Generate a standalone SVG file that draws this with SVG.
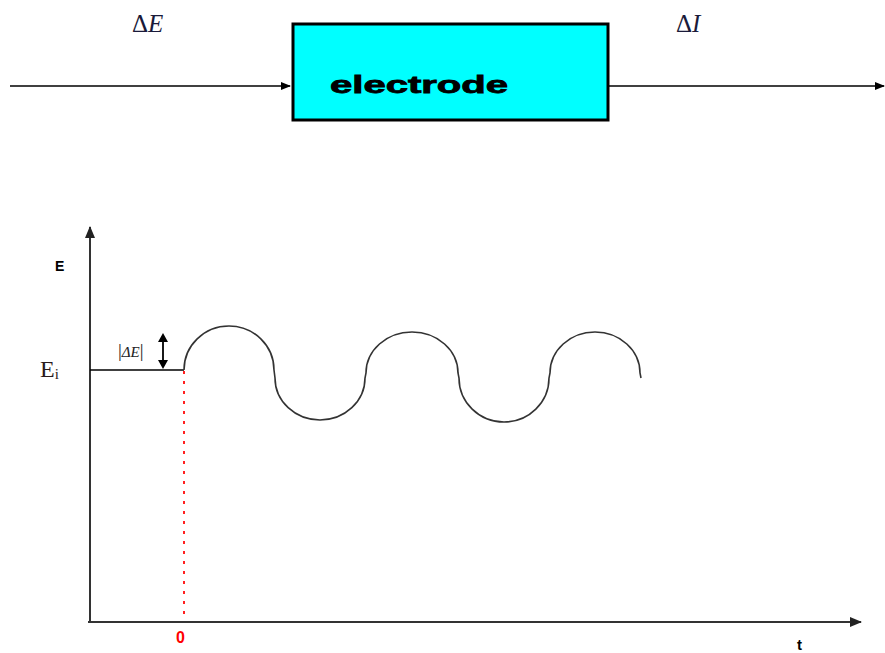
<svg xmlns="http://www.w3.org/2000/svg" width="885" height="653" viewBox="0 0 885 653">
<style>
.ln{stroke:#000;stroke-width:1.5;fill:none}
.ax{stroke:#333;stroke-width:2;fill:none}
.wave{stroke:#333;stroke-width:1.6;fill:none}
.serif{font-family:"Liberation Serif","DejaVu Serif",serif}
.sans{font-family:"Liberation Sans",Arial,sans-serif;font-weight:bold}
</style>
<defs>
<marker id="ah" markerWidth="10" markerHeight="10" refX="9" refY="5" orient="auto" markerUnits="userSpaceOnUse"><path d="M0,1 L10,5 L0,9 Z" fill="#000"/></marker>
<marker id="ah2" markerWidth="12" markerHeight="12" refX="11" refY="6" orient="auto" markerUnits="userSpaceOnUse"><path d="M0,1 L12,6 L0,11 Z" fill="#222"/></marker>
</defs>
<g id="connectors">
<line class="ln" x1="10" y1="86" x2="290" y2="86" marker-end="url(#ah)"/>
<line class="ln" x1="608" y1="86" x2="884" y2="86" marker-end="url(#ah)"/>
</g>
<g id="electrode">
<rect x="293" y="24" width="315" height="96" fill="#00FFFF" stroke="#000" stroke-width="3"/>
<text x="330" y="93" class="sans" font-size="24" stroke="#000" stroke-width="0.8" textLength="178" lengthAdjust="spacingAndGlyphs">electrode</text>
</g>
<g id="labels-top">
<text x="132" y="32" class="serif" font-size="25" fill="#1a1a3a">Δ<tspan font-style="italic">E</tspan></text>
<text x="676" y="32" class="serif" font-size="25" fill="#1a1a3a">Δ<tspan font-style="italic">I</tspan></text>
</g>
<g id="graph">
<line class="ax" x1="90" y1="623" x2="90" y2="227" marker-end="url(#ah2)"/>
<line class="ax" x1="88" y1="622" x2="861" y2="622" marker-end="url(#ah2)"/>
<text x="55" y="271" class="sans" font-size="14">E</text>
<text x="40" y="377" class="serif" font-size="24" fill="#2a1a1a">E<tspan font-size="15" dy="2">i</tspan></text>
<line x1="90" y1="370" x2="184" y2="370" stroke="#000" stroke-width="1.6"/>
<line x1="184" y1="371" x2="184" y2="620" stroke="#ff2020" stroke-width="2" stroke-dasharray="3,7"/>
<text x="176" y="643" class="sans" font-size="16" fill="#ff0000">0</text>
<text x="797" y="650" class="sans" font-size="15">t</text>
<text x="118" y="357" class="serif" font-size="19" fill="#222">|<tspan font-style="italic" font-size="15">ΔE</tspan>|</text>
<line x1="163" y1="340" x2="163" y2="362" stroke="#000" stroke-width="1.8"/>
<path d="M158,342 L163,333 L168,342 Z M158,360 L163,369 L168,360 Z" fill="#000"/>
<path class="wave" d="M184,370 A45,44 0 0 1 274,370 L275,378 A45,42 0 0 0 365,378 L366,373 A46,41 0 0 1 458,373 L459,378 A45,44 0 0 0 549,378 L550,373 A45,41 0 0 1 640,373 L641,378"/>
</g>
</svg>
